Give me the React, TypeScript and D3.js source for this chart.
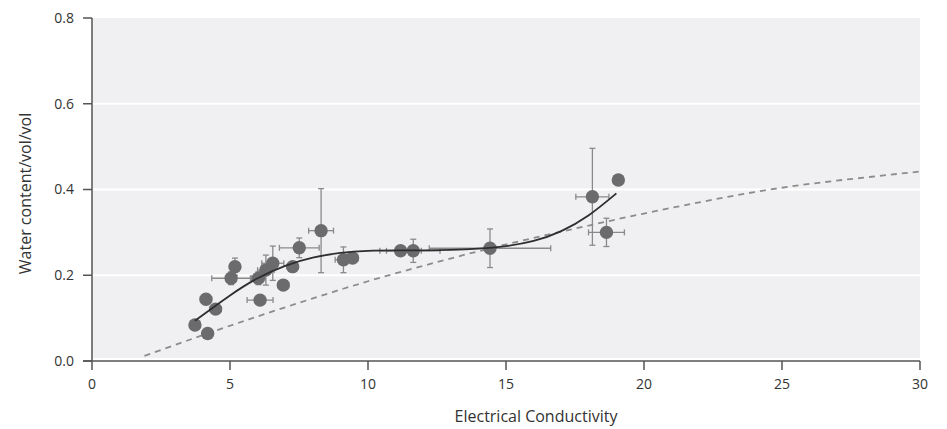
import React from 'react';
import * as d3 from 'd3';

// measured points: conductivity, water content, and their errors
const pointX = [3.73, 4.19, 4.13, 4.48, 5.18, 5.04, 6.03, 6.09, 6.30, 6.55, 6.93, 7.27, 7.51, 8.30, 9.11, 9.44, 11.18, 11.64, 14.42, 18.13, 19.07, 18.64];
const pointY = [0.084, 0.064, 0.144, 0.121, 0.220, 0.193, 0.193, 0.142, 0.212, 0.228, 0.177, 0.220, 0.264, 0.304, 0.236, 0.240, 0.257, 0.257, 0.263, 0.383, 0.422, 0.300];
const errX = [0.15, 0.1, 0.2, 0.2, 0.15, 0.7, 0.25, 0.47, 0.3, 0.4, 0.2, 0.2, 0.72, 0.45, 0.3, 0.2, 0.75, 0.97, 2.2, 0.6, 0, 0.65];
const errY = [0.008, 0.006, 0.012, 0.01, 0.02, 0.015, 0.015, 0.012, 0.035, 0.04, 0.01, 0.01, 0.023, 0.098, 0.03, 0.01, 0.01, 0.027, 0.045, 0.113, 0, 0.033];

// fitted curve (solid)
const fitX = [3.73, 5, 6, 7, 8, 9, 10, 11, 12, 13, 14, 15, 16, 17, 18, 19];
const fitY = [0.094, 0.153, 0.193, 0.222, 0.241, 0.252, 0.257, 0.258, 0.258, 0.259, 0.262, 0.268, 0.280, 0.303, 0.340, 0.391];

// model curve (dashed)
const modelX = [1.9, 4, 6, 8, 10, 12, 14, 16, 18, 20, 22, 24, 26, 28, 30];
const modelY = [0.012, 0.060, 0.104, 0.146, 0.186, 0.222, 0.256, 0.287, 0.316, 0.344, 0.370, 0.394, 0.413, 0.428, 0.442];

const xTicks = [0, 5, 10, 15, 20, 25, 30];
const yTicks = [0, 0.2, 0.4, 0.6, 0.8];

const W = 947;
const H = 429;
const left = 92, right = 920, top = 18, bottom = 361;

export default function App() {
  const x = d3.scaleLinear().domain([0, 30]).range([left, right]);
  const y = d3.scaleLinear().domain([0, 0.8]).range([bottom, top]);

  const line = d3.line<[number, number]>()
    .x(d => x(d[0]))
    .y(d => y(d[1]))
    .curve(d3.curveNatural);

  const fitPath = line(fitX.map((v, i) => [v, fitY[i]])) || '';
  const modelPath = line(modelX.map((v, i) => [v, modelY[i]])) || '';

  const font = '"Open Sans", "Noto Sans", sans-serif';
  const barColor = '#8a8a8a';
  const cap = 3;

  return (
    <svg width={W} height={H} style={{ position: 'absolute', left: 0, top: 0, background: '#fff' }}>
      {/* plot background */}
      <rect x={left} y={top} width={right - left} height={bottom - top - 3} fill="#f0f0f2" />
      {yTicks.slice(1, -1).map(t => (
        <line key={t} x1={left} x2={right} y1={y(t)} y2={y(t)} stroke="#fff" strokeWidth={2} />
      ))}

      {/* dashed model */}
      <path d={modelPath} fill="none" stroke="#8c8c8c" strokeWidth={1.8} strokeDasharray="6,5" />

      {/* error bars */}
      {pointX.map((px, i) => (
        <g key={'e' + i} stroke={barColor} strokeWidth={1.3}>
          {errY[i] > 0 && (
            <>
              <line x1={x(px)} x2={x(px)} y1={y(pointY[i] - errY[i])} y2={y(pointY[i] + errY[i])} />
              <line x1={x(px) - cap} x2={x(px) + cap} y1={y(pointY[i] - errY[i])} y2={y(pointY[i] - errY[i])} />
              <line x1={x(px) - cap} x2={x(px) + cap} y1={y(pointY[i] + errY[i])} y2={y(pointY[i] + errY[i])} />
            </>
          )}
          {errX[i] > 0 && (
            <>
              <line x1={x(px - errX[i])} x2={x(px + errX[i])} y1={y(pointY[i])} y2={y(pointY[i])} />
              <line x1={x(px - errX[i])} x2={x(px - errX[i])} y1={y(pointY[i]) - cap} y2={y(pointY[i]) + cap} />
              <line x1={x(px + errX[i])} x2={x(px + errX[i])} y1={y(pointY[i]) - cap} y2={y(pointY[i]) + cap} />
            </>
          )}
        </g>
      ))}

      {/* points */}
      {pointX.map((px, i) => (
        <circle key={'p' + i} cx={x(px)} cy={y(pointY[i])} r={6.7} fill="#6b6b6d" />
      ))}

      {/* fitted curve */}
      <path d={fitPath} fill="none" stroke="#2e2e2e" strokeWidth={1.8} />

      {/* axes */}
      <line x1={left} x2={left} y1={top} y2={bottom} stroke="#555" strokeWidth={1.5} />
      <line x1={left - 9} x2={right} y1={bottom} y2={bottom} stroke="#555" strokeWidth={1.5} />
      {yTicks.map(t => (
        <g key={'y' + t}>
          <line x1={left - 9} x2={left} y1={y(t)} y2={y(t)} stroke="#555" strokeWidth={1.5} />
          <text x={left - 18} y={y(t)} dy="0.35em" textAnchor="end" fontFamily={font} fontSize={14} fill="#333">
            {t.toFixed(1)}
          </text>
        </g>
      ))}
      {xTicks.map(t => (
        <g key={'x' + t}>
          <line x1={x(t)} x2={x(t)} y1={bottom} y2={bottom + 9} stroke="#555" strokeWidth={1.5} />
          <text x={x(t)} y={bottom + 28} textAnchor="middle" fontFamily={font} fontSize={14} fill="#333">
            {t}
          </text>
        </g>
      ))}

      <text x={(left + right) / 2 + 30} y={422} textAnchor="middle" fontFamily={font} fontSize={16} fill="#333">
        Electrical Conductivity
      </text>
      <text transform={`translate(31,${(top + bottom) / 2 + 4}) rotate(-90)`} textAnchor="middle" fontFamily={font} fontSize={16} fill="#333">
        Water content/vol/vol
      </text>
    </svg>
  );
}
